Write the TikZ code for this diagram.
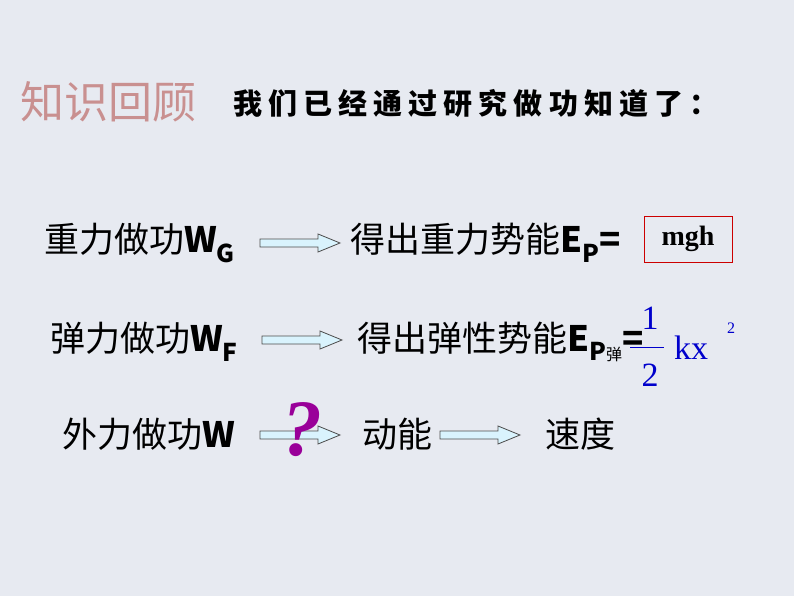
\documentclass[tikz,border=0pt]{standalone}
\usepackage{fontspec}
\newfontfamily\cjk{Noto Sans CJK SC}
\newfontfamily\cjkt[LetterSpace=21]{Noto Sans CJK SC}
\setmainfont{Liberation Sans}
\newfontfamily\tms{Liberation Serif}
\definecolor{bg}{HTML}{E7EAF1}
\definecolor{tcol}{HTML}{C99090}
\begin{document}
\begin{tikzpicture}[x=1pt,y=-1pt,
  lbl/.style={inner sep=0pt,anchor=west,font=\cjk\fontsize{35}{38}\selectfont},
  fatarrow/.pic={\draw[black!70,fill=cyan!15,line width=0.8pt] (0,-4)--(58,-4)--(58,-9)--(80,0)--(58,9)--(58,4)--(0,4)--cycle;}]
\useasboundingbox (0,0) rectangle (794,596);
\fill[bg] (0,0) rectangle (794,596);
\node[lbl,font=\cjk\fontsize{44}{46}\selectfont,text=tcol] (t1) at (20,102) {知识回顾};
\node[lbl,font=\cjkt\bfseries\fontsize{29}{32}\selectfont] (t2) at (233,103) {我们已经通过研究做功知道了：};
% row 1
\node[lbl] (a1) at (44,243) {重力做功\textbf{W\textsubscript{G}}};
\pic (r1) at (260,243) {fatarrow};
\node[lbl] (b1) at (350,243) {得出重力势能\textbf{E\textsubscript{P}=}};
\node[draw=red!80!black,line width=0.8pt,minimum width=88pt,minimum height=46pt,font=\tms\bfseries\fontsize{28}{30}\selectfont] (m) at (688,239) {mgh};
% row 2
\node[lbl] (a2) at (50,342) {弹力做功\textbf{W\textsubscript{F}}};
\pic (r2) at (262,340) {fatarrow};
\node[lbl] (b2) at (357,342) {得出弹性势能\textbf{E\textsubscript{P{\cjk\mdseries\fontsize{16}{16}\selectfont 弹}}=}};
\node[font=\tms\fontsize{34}{36}\selectfont,text=blue!80!black] (n1) at (650,318) {1};
\node[font=\tms\fontsize{34}{36}\selectfont,text=blue!80!black] (n2) at (650,375) {2};
\draw[blue!80!black,line width=1pt] (630,347)--(664,347);
\node[lbl,font=\tms\fontsize{34}{36}\selectfont,text=blue!80!black] (k) at (674,348) {kx};
\node[font=\tms\fontsize{16}{16}\selectfont,text=blue!80!black] (sq) at (731,328) {2};
% row 3
\node[lbl] (a3) at (62,434) {外力做功\textbf{W}};
\pic (r3) at (260,435) {fatarrow};
\node[font=\tms\bfseries\itshape\fontsize{80}{80}\selectfont,text=violet!80!magenta] (q) at (302,430) {?};
\node[lbl] (c3) at (362,434) {动能};
\pic (r4) at (440,435) {fatarrow};
\node[lbl] (d3) at (545,434) {速度};
\end{tikzpicture}
\end{document}
